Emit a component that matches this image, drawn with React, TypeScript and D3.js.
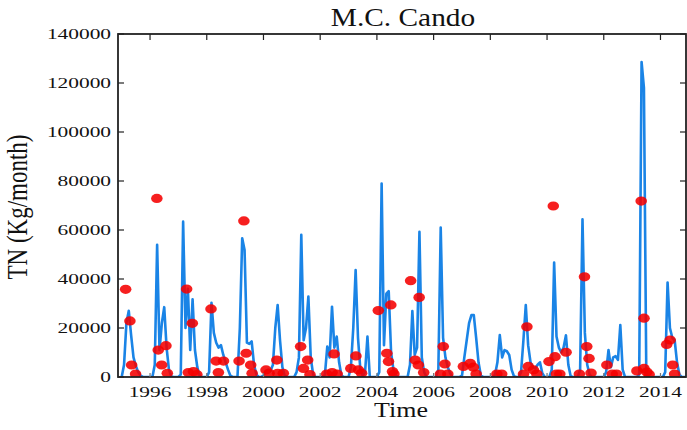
import React from "react";
import * as d3 from "d3";

// ---- data ----
const years = [1995,1996,1997,1998,1999,2000,2001,2002,2003,2004,2005,2006,2007,2008,2009,2010,2011,2012,2013,2014];
// simulated monthly TN load (Kg/month), one row per year, Jan..Dec
const tnMonthly: number[][] = [
  [0, 5000, 22000, 27000, 17000, 8000, 4500, 2000, 500, 0, 0, 0],
  [0, 0, 5000, 54000, 11000, 22000, 28500, 12000, 3000, 200, 0, 0],
  [0, 1000, 63400, 20000, 36000, 11000, 31700, 11000, 4000, 300, 0, 0],
  [0, 2000, 30300, 18000, 14000, 12000, 13000, 9000, 6000, 3000, 500, 0],
  [0, 0, 20000, 56600, 51800, 14000, 13500, 14500, 5000, 1000, 0, 0],
  [500, 2500, 3000, 2500, 5000, 20000, 29400, 15000, 4000, 500, 0, 0],
  [0, 0, 2000, 8000, 58000, 15000, 20000, 32800, 8000, 1000, 0, 0],
  [0, 0, 1000, 12400, 8000, 28700, 12000, 16500, 6000, 500, 0, 0],
  [0, 4000, 20000, 43700, 16000, 3000, 500, 2000, 16500, 0, 0, 0],
  [0, 2000, 79000, 13000, 34000, 35000, 10000, 3000, 500, 0, 0, 0],
  [0, 0, 5000, 26900, 9000, 12000, 59300, 8000, 2000, 0, 0, 0],
  [0, 0, 3000, 61000, 16000, 8000, 4000, 1500, 0, 0, 0, 0],
  [500, 8000, 15000, 22000, 25300, 25300, 16000, 6000, 500, 0, 0, 0],
  [0, 0, 1000, 6000, 17100, 8000, 11000, 10500, 9000, 3000, 300, 0],
  [0, 2000, 15000, 29400, 13000, 6000, 4000, 3500, 5000, 6000, 1500, 0],
  [0, 0, 3000, 46700, 16500, 12000, 10000, 12000, 17000, 5000, 300, 0],
  [0, 0, 3000, 64400, 18000, 5000, 1000, 0, 0, 0, 0, 0],
  [0, 2000, 11000, 4000, 8000, 8500, 7000, 21200, 3000, 0, 0, 0],
  [0, 0, 0, 1000, 128600, 118000, 1000, 0, 0, 0, 0, 0],
  [0, 0, 2000, 38600, 20000, 16000, 15000, 6000, 1000, 0, 0, 0],
];

// observed TN (decimal year, Kg/month)
const obsTime = [
  1995.14, 1995.29, 1995.35, 1995.49,
  1996.24, 1996.29, 1996.56, 1996.41, 1996.61,
  1997.29, 1997.49, 1997.35, 1997.53, 1997.65,
  1998.15, 1998.33, 1998.59, 1998.41,
  1999.14, 1999.31, 1999.39, 1999.55, 1999.6,
  2000.09, 2000.2, 2000.47, 2000.5, 2000.7,
  2001.31, 2001.56, 2001.41, 2001.64,
  2002.23, 2002.49, 2002.42, 2002.6,
  2003.08, 2003.26, 2003.35, 2003.46,
  2004.05, 2004.49, 2004.35, 2004.41, 2004.55, 2004.6,
  2005.19, 2005.49, 2005.35, 2005.46, 2005.65,
  2006.34, 2006.4, 2006.24, 2006.5,
  2007.05, 2007.29, 2007.4, 2007.5,
  2008.23, 2008.4,
  2009.29, 2009.17, 2009.34, 2009.52, 2009.64,
  2010.22, 2010.07, 2010.28, 2010.67, 2010.33, 2010.45,
  2011.14, 2011.32, 2011.4, 2011.48, 2011.55,
  2012.11, 2012.3, 2012.45,
  2013.17, 2013.32, 2013.42, 2013.42, 2013.52, 2013.6,
  2014.22, 2014.34, 2014.43, 2014.5,
];
const obsTN = [
  35800, 22900, 4900, 1200,
  72900, 11000, 12800, 4900, 1500,
  35900, 21900, 1800, 2200, 1000,
  27800, 6500, 6500, 1800,
  6500, 63700, 9700, 4900, 1500,
  2900, 1500, 6900, 1500, 1500,
  12400, 6900, 3500, 1000,
  1200, 9400, 1800, 1200,
  3500, 8600, 2900, 1500,
  27100, 29400, 9700, 6300, 2200, 1200,
  39300, 32500, 6900, 4900, 1800,
  12400, 5300, 1200, 1200,
  4300, 5600, 4000, 1200,
  1200, 1200,
  20500, 1200, 4300, 2900, 1200,
  69800, 6300, 8300, 10100, 1200, 1200,
  1200, 40900, 12400, 7600, 1600,
  4900, 1200, 1200,
  2500, 71800, 24000, 3500, 2000, 1000,
  13300, 15100, 4900, 1200,
];

const yTicks = [0, 20000, 40000, 60000, 80000, 100000, 120000, 140000];
const xTicks = [1996, 1998, 2000, 2002, 2004, 2006, 2008, 2010, 2012, 2014];

const W = 687, H = 430;
const M = { left: 118, right: 686, top: 34, bottom: 377 };
const SX = 1.38; // horizontal stretch of the text in the original picture
const FONT = "'Liberation Serif', 'Times New Roman', serif";

export default function App() {
  const x = d3.scaleLinear().domain([1994.87, 2014.9]).range([M.left, M.right]);
  const y = d3.scaleLinear().domain([0, 140000]).range([M.bottom, M.top]);

  const series: { t: number; v: number }[] = [];
  years.forEach((yr, i) => tnMonthly[i].forEach((v, m) => series.push({ t: yr + m / 12, v })));
  const line = d3.line<{ t: number; v: number }>().x(d => x(d.t)).y(d => y(d.v));

  return (
    <svg width={W} height={H} style={{ position: "absolute", left: 0, top: 0, background: "#fff" }} fontFamily={FONT}>
      <defs>
        <clipPath id="plot">
          <rect x={M.left} y={M.top - 2} width={M.right - M.left} height={M.bottom - M.top + 2} />
        </clipPath>
      </defs>
      <g transform={`translate(403,26) scale(1.13,1)`}>
        <text textAnchor="middle" fontSize={26} fill="#111">M.C. Cando</text>
      </g>

      <g clipPath="url(#plot)">
        <path d={line(series) || ""} fill="none" stroke="#1a84e6" strokeWidth={2.6} strokeLinejoin="round" />
        {obsTime.map((t, i) => (
          <ellipse key={i} cx={x(t)} cy={y(obsTN[i])} rx={5.8} ry={4.6} fill="#f50000" fillOpacity={0.88} />
        ))}
      </g>

      {/* frame */}
      <rect x={M.left} y={M.top} width={M.right - M.left} height={M.bottom - M.top} fill="none" stroke="#222" strokeWidth={1.8} />
      {yTicks.map(v => (
        <g key={v}>
          <line x1={M.left} x2={M.left + 6} y1={y(v)} y2={y(v)} stroke="#222" strokeWidth={1.2} />
          <line x1={M.right - 6} x2={M.right} y1={y(v)} y2={y(v)} stroke="#222" strokeWidth={1.2} />
          <g transform={`translate(${M.left - 7},${y(v) + 5}) scale(${SX},1)`}>
            <text textAnchor="end" fontSize={15.5} fill="#111">{v}</text>
          </g>
        </g>
      ))}
      {xTicks.map(t => (
        <g key={t}>
          <line x1={x(t)} x2={x(t)} y1={M.top} y2={M.top + 6} stroke="#222" strokeWidth={1.2} />
          <line x1={x(t)} x2={x(t)} y1={M.bottom} y2={M.bottom - 4} stroke="#777" strokeWidth={1.2} />
          <g transform={`translate(${x(t)},${M.bottom + 20}) scale(${SX},1)`}>
            <text textAnchor="middle" fontSize={15.5} fill="#111">{t}</text>
          </g>
        </g>
      ))}
      <g transform={`translate(401,417) scale(1.18,1)`}>
        <text textAnchor="middle" fontSize={22} fill="#111">Time</text>
      </g>
      <g transform={`translate(27,207) scale(1.3,1) rotate(-90)`}>
        <text textAnchor="middle" fontSize={23} fill="#111">TN (Kg/month)</text>
      </g>
    </svg>
  );
}
